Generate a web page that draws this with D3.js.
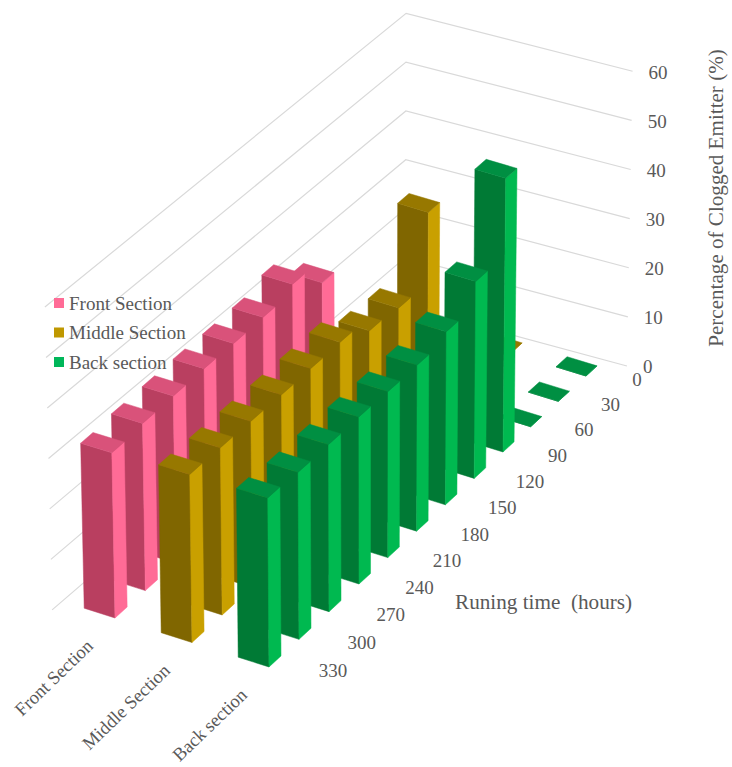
<!DOCTYPE html>
<html><head><meta charset="utf-8">
<script src="https://cdn.jsdelivr.net/npm/d3@7"></script>
<style>
html,body{margin:0;padding:0;background:#fff}
svg{display:block}
text{font-family:"Liberation Serif",serif;fill:#595959;white-space:pre}
</style></head><body>
<svg id="c" width="732" height="767"></svg>
<script>
const times=[0,30,60,90,120,150,180,210,240,270,300,330];
const sections=["Front Section","Middle Section","Back section"];
const frontValues=[0,0,0,0,30,34.9,33.4,33.3,33.4,33.3,33.2,32.7];
const middleValues=[0,0,0,43.7,29.6,30.2,33.1,33,32.9,33,33.1,33.2];
const backValues=[0,0,0,55.2,39.6,34.7,33.2,33.1,33.2,33.1,33,33.3];
const seriesValues=[frontValues,middleValues,backValues];
const valueTicks=[0,10,20,30,40,50,60];
const faceColors=[
  {front:"#b93f60",side:"#ff6b96",top:"#d9527a",key:"#ff6b96"},
  {front:"#806600",side:"#c9a000",top:"#977800",key:"#bf9800"},
  {front:"#007a35",side:"#00b950",top:"#008f42",key:"#00b75a"}];

const svg=d3.select("#c");
// ground plane: time runs towards the viewer, section runs to the right
const timeX=d3.scaleLinear().domain([0,90,240,330]).range([586,503,359,269]);
const timeY=d3.scaleLinear().domain([0,90,240,330]).range([376,452,584,667]);
const stepX=d3.scaleLinear().domain([0,330]).range([75,77]);
const stepY=d3.scaleLinear().domain([0,330]).range([23,24.5]);
const vScale=d3.scaleLinear().domain([0,60]).range([0,292.8]);
const nearGrow=d3.scaleLinear().domain([306,610]).range([1,1.034]);
const lean=d3.scaleLinear().domain([370,670]).range([0,0.0225]);

function project(t,s,v){
  const gx=timeX(t)+(s-2)*stepX(t), gy=timeY(t)+(s-2)*stepY(t);
  const h=vScale(v)*nearGrow(gy);
  return [gx+(lean(gx))*h, gy-h];
}
const poly=pts=>pts.map(p=>p.join(",")).join(" ");

// walls
const wallLeft=[339.6,-0.69], wallCorner=[-12.9,-0.57], wallRight=[-20,2.3];
svg.append("g").selectAll("polyline").data(valueTicks).join("polyline")
  .attr("points",v=>poly([wallLeft,wallCorner,wallRight].map(a=>project(a[0],a[1],v))))
  .attr("fill","none").attr("stroke","#d9d9d9").attr("stroke-width",1.2);

// bars, far to near
const barWide=0.4, barDeep=12;
const bars=[];
times.forEach((t,i)=>sections.forEach((sec,s)=>bars.push({t,s,v:seriesValues[s][i]})));
const g=svg.append("g").selectAll("g").data(bars).join("g");
function face(sel,key,fn){
  sel.append("polygon").attr("points",fn)
    .attr("fill",d=>faceColors[d.s][key]).attr("stroke",d=>faceColors[d.s][key]).attr("stroke-width",0.5);
}
face(g,"front",d=>poly([project(d.t,d.s-barWide,0),project(d.t,d.s,0),project(d.t,d.s,d.v),project(d.t,d.s-barWide,d.v)]));
face(g,"side",d=>poly([project(d.t,d.s,0),project(d.t-barDeep,d.s,0),project(d.t-barDeep,d.s,d.v),project(d.t,d.s,d.v)]));
face(g,"top",d=>poly([project(d.t,d.s-barWide,d.v),project(d.t,d.s,d.v),project(d.t-barDeep,d.s,d.v),project(d.t-barDeep,d.s-barWide,d.v)]));

const fs=19;
// value ticks
svg.append("g").selectAll("text").data(valueTicks).join("text")
  .attr("x",v=>project(wallRight[0],wallRight[1],v)[0]+16)
  .attr("y",v=>project(wallRight[0],wallRight[1],v)[1]+1)
  .attr("dominant-baseline","central").attr("font-size",fs).text(d=>d);
// time ticks
const labelDx=d3.scaleLinear().domain([0,330]).range([51,64]);
svg.append("g").selectAll("text").data(times).join("text")
  .attr("x",t=>project(t,2,0)[0]+labelDx(t))
  .attr("y",t=>project(t,2,0)[1]+3)
  .attr("text-anchor","middle").attr("dominant-baseline","central").attr("font-size",fs).text(d=>d);
// section ticks
svg.append("g").selectAll("text").data(sections).join("text")
  .attr("transform",(d,s)=>{const p=project(330,s,0);return `translate(${p[0]-25},${p[1]+25}) rotate(-44)`;})
  .attr("text-anchor","end").attr("dominant-baseline","central").attr("font-size",18.5).text(d=>d);
// axis titles
svg.append("text").attr("x",455).attr("y",602).attr("dominant-baseline","central")
  .attr("font-size",21.2).text("Runing time  (hours)");
svg.append("text").attr("transform","translate(716,198) rotate(-90)")
  .attr("text-anchor","middle").attr("dominant-baseline","central")
  .attr("font-size",21.1).text("Percentage of Clogged Emitter (%)");
// legend
const lg=svg.append("g").selectAll("g").data(sections).join("g")
  .attr("transform",(d,i)=>`translate(54,${298+i*29.5})`);
lg.append("rect").attr("width",10).attr("height",10).attr("fill",(d,i)=>faceColors[i].key);
lg.append("text").attr("x",15).attr("y",5).attr("dominant-baseline","central")
  .attr("font-size",fs).text(d=>d);
</script></body></html>
